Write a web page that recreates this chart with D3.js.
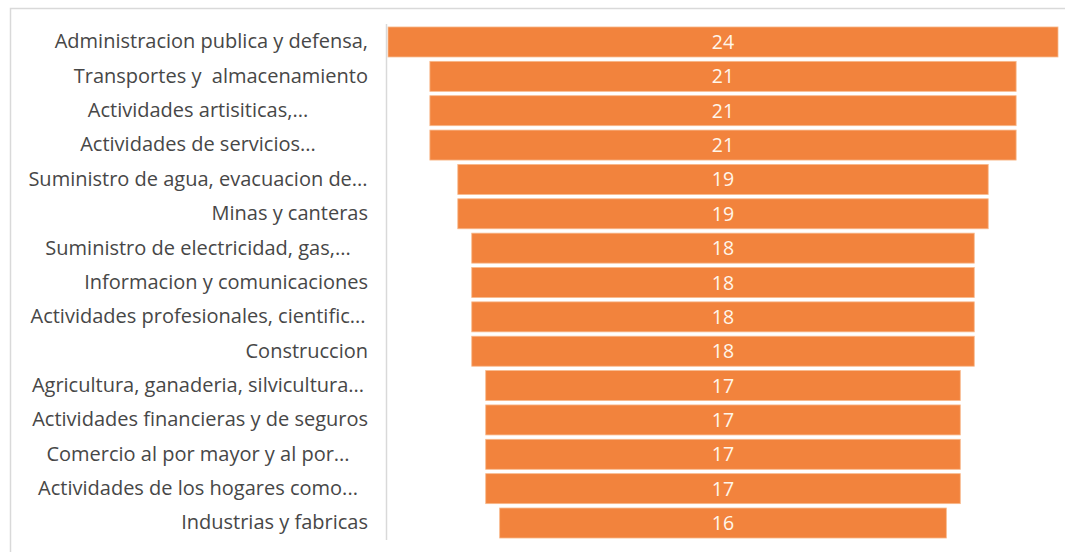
<!DOCTYPE html>
<html>
<head>
<meta charset="utf-8">
<script src="https://cdn.jsdelivr.net/npm/d3@7"></script>
<style>
  html, body { margin: 0; padding: 0; background: #fff; }
  svg { display: block; }
  text { white-space: pre; }
</style>
</head>
<body>
<svg id="chart" width="1065" height="552"></svg>
<script>
const categories = [
  "Administracion publica y defensa,",
  "Transportes y  almacenamiento",
  "Actividades artisiticas,...",
  "Actividades de servicios...",
  "Suministro de agua, evacuacion de...",
  "Minas y canteras",
  "Suministro de electricidad, gas,...",
  "Informacion y comunicaciones",
  "Actividades profesionales, cientific...",
  "Construccion",
  "Agricultura, ganaderia, silvicultura...",
  "Actividades financieras y de seguros",
  "Comercio al por mayor y al por...",
  "Actividades de los hogares como...",
  "Industrias y fabricas"
];
const values = [24, 21, 21, 21, 19, 19, 18, 18, 18, 18, 17, 17, 17, 17, 16];

const svg = d3.select("#chart");

// outer frame (top and left border lines)
svg.append("path")
  .attr("d", "M10.5,552 L10.5,8.5 L1065,8.5")
  .attr("fill", "none")
  .attr("stroke", "#d9d9d9")
  .attr("stroke-width", 1.5);

const maxV = d3.max(values);
const x = d3.scaleLinear().domain([-maxV / 2, maxV / 2]).range([388, 1058]);
const y = d3.scaleBand().domain(categories).range([24.8, 540.2])
  .paddingInner(0.127).paddingOuter(0.0635);

// bars (funnel: centered)
svg.append("g").selectAll("rect")
  .data(values)
  .join("rect")
  .attr("x", d => x(-d / 2))
  .attr("width", d => x(d / 2) - x(-d / 2))
  .attr("y", (d, i) => y(categories[i]))
  .attr("height", y.bandwidth())
  .attr("fill", "#f2833d")
  .attr("stroke", "#f8b98c")
  .attr("stroke-width", 0.8);

// value labels
svg.append("g").selectAll("text")
  .data(values)
  .join("text")
  .attr("x", x(0))
  .attr("y", (d, i) => y(categories[i]) + y.bandwidth() / 2)
  .attr("dy", "0.36em")
  .attr("text-anchor", "middle")
  .attr("font-family", "'Open Sans', sans-serif")
  .attr("font-size", 19.5)
  .attr("fill", "#fff6ea")
  .text(d => d);

// category axis
const axisX = 386.5;
const labelAreaLeft = 28, labelAreaRight = 368;
const axis = d3.axisLeft(y).tickSize(0).tickPadding(axisX - labelAreaRight);
const gAxis = svg.append("g")
  .attr("transform", `translate(${axisX},0)`)
  .call(axis);
gAxis.select(".domain")
  .attr("d", "M0,24V540")
  .attr("stroke", "#d9d9d9")
  .attr("stroke-width", 1.5);
gAxis.selectAll("text")
  .attr("font-family", "'Open Sans', sans-serif")
  .attr("font-size", 20)
  .attr("fill", "#474747")
  .style("white-space", "pre");
// truncated (wrapped) labels are centred in the label area, as in the source
gAxis.selectAll(".tick text")
  .filter(d => d.endsWith("..."))
  .attr("text-anchor", "middle")
  .attr("x", (labelAreaLeft + labelAreaRight) / 2 - axisX);
</script>
</body>
</html>
